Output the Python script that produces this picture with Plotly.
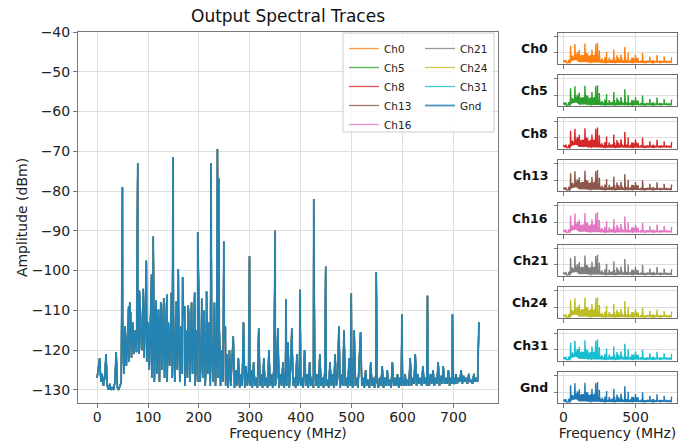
import plotly.graph_objects as go

# ---------------- data ----------------
channels = ["Ch0", "Ch5", "Ch8", "Ch13", "Ch16", "Ch21", "Ch24", "Ch31", "Gnd"]
channel_colors = ["#ff7f0e", "#2ca02c", "#d62728", "#8c564b", "#e377c2",
                  "#7f7f7f", "#bcbd22", "#17becf", "#1f77b4"]
legend_col1 = ["Ch0", "Ch5", "Ch8", "Ch13", "Ch16"]

# noise floor / grass, sampled every 2.5 MHz from 0 to 750 MHz (dBm)
floor_step_mhz = 2.5
floor_dbm = [
    -127, -125, -122, -128, -126, -129, -127, -121, -129, -130, -128.5, -130, -129.5, -130, -128, -120.5, -129.5, -130, -129, -128,
    -112, -126, -114, -124, -116, -123, -111, -122, -113, -121, -115, -120.5, -112, -121, -110, -120, -114, -122, -111, -123,
    -113, -125, -109, -127, -112, -128, -110, -126, -114, -128, -108, -125, -112, -127, -110, -128, -113, -124, -109, -127,
    -111, -128, -113, -125, -110, -128, -114, -126, -112, -129, -115, -127, -111, -128, -116, -126, -113, -129, -115, -128,
    -112, -128, -117, -127, -114, -129, -118, -126, -113, -129, -117, -128, -115, -129, -119, -127, -114, -129, -120, -128,
    -118, -129, -121, -129.5, -120, -129, -124, -116.5, -129.5, -125, -129, -122, -129.5, -126, -129, -113, -129.5, -124, -129, -126,
    -129, -125, -129.5, -123, -129, -127, -129.5, -114.5, -129, -126, -129.5, -122, -129, -127, -129.5, -120, -129, -126, -129.5, -124,
    -129, -127, -114.5, -129.5, -126, -129, -123, -129.5, -127, -129, -118, -129.5, -125, -114.5, -129, -127, -129.5, -121, -129, -126,
    -129, -127, -129.5, -120, -129, -126, -129.5, -123, -129, -127, -129.5, -124, -129, -126, -129.5, -121, -129, -127, -129.5, -125,
    -129, -127.5, -129.5, -123, -129, -126, -129.5, -121, -129, -127, -114, -129.5, -126, -129, -115, -129, -127, -129.5, -122, -129,
    -128, -129.5, -115, -129, -127, -129.5, -124, -115.5, -129, -127, -129.5, -125, -129, -127.5, -129.5, -123, -129, -127, -129.5, -126,
    -128, -129.5, -127, -129, -124, -129.5, -127, -129, -125, -129, -127.5, -129.5, -123, -129, -127, -129, -126, -129.5, -127, -129,
    -128, -129, -126, -129, -127.5, -129, -122, -129, -127, -128.5, -121, -129, -126, -128.5, -127, -129, -124, -128.5, -127, -129,
    -128, -129, -126, -128.5, -125, -129, -127, -128.5, -123, -129, -126.5, -128.5, -124, -128.5, -127, -128.5, -125, -129, -127, -128.5,
    -128, -128.5, -126, -128.5, -127, -128, -125, -128.5, -126.5, -128, -127, -128.5, -126, -128, -127.5, -128.5, -126, -128, -127, -128, -113,
]

# discrete spurs (MHz, dBm)
spur_mhz = [49.8, 62, 64, 66, 79.8, 83, 90.5, 96.8, 107, 110.3, 116, 120.5, 126, 131, 137, 146,
            149.3, 155.6, 159.6, 168, 172, 179, 185.5, 191.6, 197.6, 199.4, 205.5, 210.5, 215,
            223.8, 230.5, 236.4, 239, 248.9, 252, 299.4, 349.8, 371, 398.8, 425.5, 449, 499.4,
            548.4, 598.8, 649, 698]
spur_dbm = [-79, -109, -108, -110.5, -73, -105, -104.6, -97.5, -101, -91.4, -107.5, -109.8, -108.3, -106.9, -106, -105.6,
            -71.5, -107.8, -99.6, -101.6, -109, -108.8, -108, -105.5, -90.3, -103.3, -107, -110, -105.2,
            -73, -108, -69.4, -76.8, -92.7, -114, -96.4, -90, -107.2, -104.8, -82, -99, -105.7,
            -100.4, -111, -106.3, -111]

main_yticks = [-130, -120, -110, -100, -90, -80, -70, -60, -50, -40]
main_xticks = [0, 100, 200, 300, 400, 500, 600, 700]
panel_xticks = [0, 500]
panel_yticks = [-100, -50]
x_range = [-37.5, 787.5]
y_range = [-133.3, -40]

# ---------------- assemble the trace ----------------
pts = [(i * floor_step_mhz, v) for i, v in enumerate(floor_dbm)] + list(zip(spur_mhz, spur_dbm))
pts.sort(key=lambda p: p[0])
freq = [p[0] for p in pts]
amp = [p[1] for p in pts]

W, H = 686, 442
FONT = "DejaVu Sans"
TXT = "#222222"


def fx(p):
    return p / W


def fy(p):
    return 1 - p / H


fig = go.Figure()

# main plot traces (Gnd drawn last, on top)
for name, col in zip(channels, channel_colors):
    fig.add_trace(go.Scatter(
        x=freq, y=amp, mode="lines", name=name,
        line=dict(color=col, width=1.8 if name == "Gnd" else 1.3), opacity=0.8,
        xaxis="x", yaxis="y",
        legend="legend" if name in legend_col1 else "legend2",
        hoverinfo="skip"))

# small panels
panel_top0 = 33
panel_pitch = 42.4
panel_h = 31
annotations = []
for i, (name, col) in enumerate(zip(channels, channel_colors)):
    k = i + 2
    fig.add_trace(go.Scatter(
        x=freq, y=amp, mode="lines", showlegend=False,
        line=dict(color=col, width=1.4),
        xaxis=f"x{k}", yaxis=f"y{k}", hoverinfo="skip"))
    top = panel_top0 + panel_pitch * i
    bot = top + panel_h
    last = (i == len(channels) - 1)
    fig.layout[f"xaxis{k}"] = dict(
        domain=[fx(558), fx(677)], anchor=f"y{k}", range=x_range, automargin=False,
        tickvals=panel_xticks, showticklabels=last, ticks="outside", ticklen=4,
        ticklabelstandoff=-3,
        tickcolor="#777", showgrid=True, gridcolor="#dedede", gridwidth=1,
        showline=True, mirror=True, linecolor="#6e6e6e", linewidth=1, zeroline=False,
        tickfont=dict(size=14, family=FONT, color=TXT),
        title=dict(text="Frequency (MHz)" if last else "", standoff=3,
                   font=dict(size=14, family=FONT, color=TXT)),
    )
    fig.layout[f"yaxis{k}"] = dict(
        domain=[fy(bot), fy(top)], anchor=f"x{k}", range=y_range, automargin=False,
        tickvals=panel_yticks, showticklabels=False, ticks="outside", ticklen=3,
        tickcolor="#777", showgrid=True, gridcolor="#dedede", gridwidth=1,
        showline=True, mirror=True, linecolor="#6e6e6e", linewidth=1, zeroline=False,
    )
    annotations.append(dict(
        text=name, x=fx(550), y=fy((top + bot) / 2), xref="paper", yref="paper",
        xanchor="right", yanchor="middle", showarrow=False,
        font=dict(size=12.5, family=FONT, color="#111", weight="bold")))

fig.update_layout(
    width=W, height=H,
    margin=dict(l=0, r=0, t=0, b=0, autoexpand=False),
    paper_bgcolor="white", plot_bgcolor="white",
    font=dict(family=FONT, color=TXT),
    title=dict(text="Output Spectral Traces", x=fx(288), xanchor="center",
               y=fy(16), yanchor="middle", automargin=False,
               font=dict(size=17, family=FONT, color="#111")),
    xaxis=dict(domain=[fx(78), fx(498)], anchor="y", range=x_range, automargin=False,
               tickvals=main_xticks, ticks="outside", ticklen=4, tickcolor="#777",
               ticklabelstandoff=-3,
               showgrid=True, gridcolor="#dedede", gridwidth=1,
               showline=True, mirror=True, linecolor="#7a7a7a", linewidth=1, zeroline=False,
               tickfont=dict(size=14, family=FONT, color=TXT),
               title=dict(text="Frequency (MHz)", standoff=3,
                          font=dict(size=14, family=FONT, color=TXT))),
    yaxis=dict(domain=[fy(403), fy(32)], anchor="x", range=y_range, automargin=False,
               tickvals=main_yticks, ticks="outside", ticklen=4, tickcolor="#777",
               showgrid=True, gridcolor="#dedede", gridwidth=1,
               showline=True, mirror=True, linecolor="#7a7a7a", linewidth=1, zeroline=False,
               tickfont=dict(size=14, family=FONT, color=TXT),
               title=dict(text="Amplitude (dBm)", standoff=0,
                          font=dict(size=14, family=FONT, color=TXT))),
    legend=dict(x=fx(344), y=fy(34), xanchor="left", yanchor="top",
                bgcolor="rgba(0,0,0,0)", borderwidth=0,
                font=dict(size=10.5, family=FONT, color=TXT)),
    legend2=dict(x=fx(420), y=fy(34), xanchor="left", yanchor="top",
                 bgcolor="rgba(0,0,0,0)", borderwidth=0,
                 font=dict(size=10.5, family=FONT, color=TXT)),
    shapes=[dict(type="rect", xref="paper", yref="paper",
                 x0=fx(343), x1=fx(494), y0=fy(132), y1=fy(33),
                 fillcolor="rgba(255,255,255,0.8)", line=dict(color="#cccccc", width=1),
                 layer="above")],
    annotations=annotations,
)

fig.write_html("out.html", config={"displayModeBar": False},
               post_script="document.body.style.margin='0';document.body.style.overflow='hidden';")
